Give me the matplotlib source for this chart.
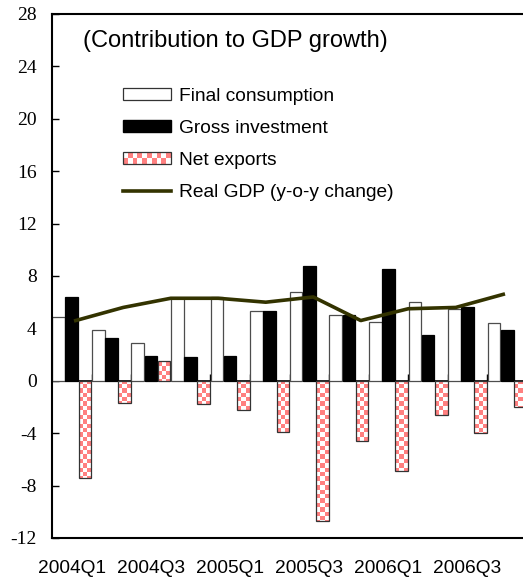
import numpy as np
import matplotlib
matplotlib.use("Agg")
import matplotlib.pyplot as plt
from matplotlib.patches import Patch, Rectangle, PathPatch
from matplotlib.lines import Line2D
from matplotlib.path import Path
from matplotlib.colors import ListedColormap
from matplotlib.legend_handler import HandlerBase

plt.rcParams["axes.unicode_minus"] = False

# ---------------- data ----------------
quarters = ["2004Q1", "2004Q2", "2004Q3", "2004Q4",
            "2005Q1", "2005Q2", "2005Q3", "2005Q4",
            "2006Q1", "2006Q2", "2006Q3", "2006Q4"]
tick_labels = ["2004Q1", "2004Q3", "2005Q1", "2005Q3", "2006Q1", "2006Q3"]
final_consumption = [4.9, 3.9, 2.9, 6.3, 6.4, 5.3, 6.8, 5.0, 4.5, 6.0, 5.5, 4.4]
gross_investment = [6.4, 3.3, 1.9, 1.8, 1.9, 5.3, 8.8, 5.0, 8.5, 3.5, 5.6, 3.9]
net_exports = [-7.4, -1.7, 1.5, -1.8, -2.2, -3.9, -10.7, -4.6, -6.9, -2.6, -4.0, -2.0]
real_gdp = [4.6, 5.6, 6.3, 6.3, 6.0, 6.4, 4.6, 5.5, 5.6, 6.6]
series_names = ["Final consumption", "Gross investment", "Net exports",
                "Real GDP (y-o-y change)"]
title = "(Contribution to GDP growth)"

PINK = "#FF8080"
OLIVE = "#333300"
SANS = "Liberation Sans"
SERIF = "Liberation Serif"

W, H = 523, 579
fig = plt.figure(figsize=(W / 100, H / 100), dpi=100)
ax = fig.add_axes([52 / W, (H - 538) / H, 475 / W, 524 / H])

x = np.arange(len(quarters))
bw = 0.32
off = 0.333
ax.bar(x - off, final_consumption, bw, facecolor="white", edgecolor="#4d4d4d",
       linewidth=0.9, zorder=2)
ax.bar(x, gross_investment, bw, facecolor="black", edgecolor="black",
       linewidth=0.9, zorder=2)
ne = ax.bar(x + off, net_exports, bw, facecolor="none", edgecolor="#333333",
            linewidth=0.9, zorder=3)

ax.set_xlim(-0.5, len(quarters) - 0.5)
ax.set_ylim(-12, 28)

# checkered fill for net exports, clipped to the bars
ncols = len(quarters) * 9
nrows = 119
cells = (np.add.outer(np.arange(nrows), np.arange(ncols)) % 2).astype(float)
img = ax.imshow(cells, cmap=ListedColormap(["white", PINK]), aspect="auto",
                interpolation="nearest", extent=(-0.5, len(quarters) - 0.5, -12, 28),
                zorder=2.5)
paths = [p.get_path().transformed(p.get_patch_transform()) for p in ne.patches]
clip = PathPatch(Path.make_compound_path(*paths), transform=ax.transData,
                 facecolor="none", edgecolor="none")
ax.add_patch(clip)
img.set_clip_path(clip)
ax.set_xlim(-0.5, len(quarters) - 0.5)
ax.set_ylim(-12, 28)

# axes styling
for s in ["left", "top", "bottom"]:
    ax.spines[s].set_linewidth(1.5)
ax.spines["right"].set_visible(False)
ax.set_yticks(np.arange(-12, 29, 4))
ax.tick_params(axis="y", direction="in", length=5, width=1, pad=11,
               labelsize=14, labelfontfamily=SERIF)
ax.set_xticks(x[::2])
ax.set_xticklabels(tick_labels)
ax.tick_params(axis="x", length=0, pad=16, labelsize=13.8, labelfontfamily=SANS)

# zero line with category ticks
sec = ax.secondary_xaxis(12 / 40)
sec.set_xticks(np.arange(-0.5, len(quarters), 1))
sec.tick_params(direction="in", length=5, width=1, labelbottom=False,
                labeltop=False)
for s in sec.spines.values():
    s.set_linewidth(1.2)

# GDP line on its own category axis
ax2 = ax.twiny()
ax2.set_xlim(-0.5, len(real_gdp) - 0.5)
ax2.plot(np.arange(len(real_gdp)), real_gdp, color=OLIVE, linewidth=2.6,
         solid_joinstyle="round", zorder=5)
ax2.set_xticks([])
for s in ax2.spines.values():
    s.set_visible(False)
ax2.patch.set_visible(False)

fig.text(83 / W, 1 - 41 / H, title, fontsize=17, family=SANS, ha="left",
         va="center")


class CheckerHandle:
    pass


class CheckerHandler(HandlerBase):
    def create_artists(self, legend, orig_handle, xdescent, ydescent, width,
                       height, fontsize, trans):
        arts = []
        nc, nr = 10, 2
        cw, ch = width / nc, height / nr
        for i in range(nc):
            for j in range(nr):
                if (i + j) % 2 == 0:
                    arts.append(Rectangle((-xdescent + i * cw, -ydescent + j * ch),
                                          cw, ch, facecolor=PINK,
                                          edgecolor="none", transform=trans))
        arts.append(Rectangle((-xdescent, -ydescent), width, height,
                              facecolor="none", edgecolor="#333333",
                              linewidth=0.9, transform=trans))
        return arts


handles = [Patch(facecolor="white", edgecolor="#333333", linewidth=0.9),
           Patch(facecolor="black", edgecolor="black"),
           CheckerHandle(),
           Line2D([], [], color=OLIVE, linewidth=2.6)]
leg = ax.legend(handles, series_names, handler_map={CheckerHandle: CheckerHandler()},
                loc="upper left", bbox_to_anchor=(123 / W, 1 - 88 / H),
                bbox_transform=fig.transFigure, frameon=False, borderpad=0,
                borderaxespad=0, handlelength=2.5, handleheight=0.57,
                handletextpad=0.42, labelspacing=0.78,
                prop={"family": SANS, "size": 13.8})
leg.set_zorder(10)

fig.savefig("out.png", dpi=100)
